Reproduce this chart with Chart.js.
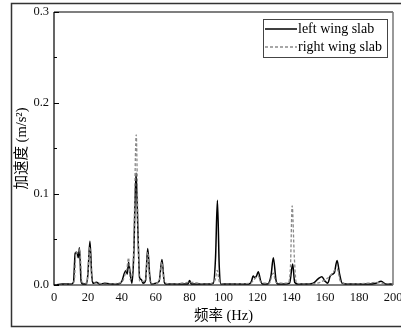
<!DOCTYPE html>
<html>
<head>
<meta charset="utf-8">
<script src="https://cdn.jsdelivr.net/npm/chart.js@4/dist/chart.umd.min.js"></script>
<style>
html,body{margin:0;padding:0;background:#fff;}
#wrap{position:absolute;left:0;top:0;width:401px;height:331px;}
</style>
</head>
<body>
<div id="wrap"><canvas id="c" width="401" height="331"></canvas></div>
<script>
const seriesNames = ['left wing slab', 'right wing slab'];
const xTitle = '频率 (Hz)';
const yTitle = '加速度 (m/s²)';

const freqLeft = [0,5,10,11.5,12.5,13.5,14.3,15,16,17,19,20,21.2,22.3,23,25,27,30,35,38,40,41.5,42.5,43.2,44,45,46,47,48.4,49.5,50.5,51.5,52.5,54,55.3,56.5,57.5,60,62,63.7,65,66,70,75,79,80,81,85,90,94,95.3,96.4,97.5,98.5,105,110,115,116.5,117.5,118.5,119.5,120.5,122,123,126,128,129.4,131,132,136,139,140.8,142,144,150,153,156,158,160,161.5,163,164.5,165.5,167,168.5,170,175,180,185,190,193,196,200];
const accLeft = [0,0.001,0.001,0.003,0.035,0.036,0.03,0.041,0.004,0.001,0.001,0.012,0.048,0.01,0.002,0.003,0.001,0.002,0.001,0.001,0.004,0.013,0.016,0.012,0.025,0.012,0.002,0.03,0.123,0.06,0.008,0.006,0.002,0.005,0.04,0.01,0.001,0.002,0.004,0.028,0.004,0.001,0.001,0.001,0.001,0.005,0.001,0.001,0.001,0.002,0.03,0.093,0.02,0.001,0.001,0.001,0.001,0.004,0.01,0.008,0.01,0.0146,0.004,0.001,0.001,0.01,0.03,0.005,0.001,0.001,0.002,0.023,0.003,0.001,0.001,0.002,0.007,0.009,0.004,0.002,0.01,0.012,0.014,0.027,0.012,0.002,0.001,0.001,0.001,0.002,0.004,0.001,0.001];

const freqRight = [0,10,12,13,14.3,15.2,16.5,19.5,21,22.5,26,30,40,42,43,44,45,47,48.5,49.6,50.5,54,55.3,56.5,58,62,63.7,65,70,80,90,95,96.3,97.5,100,116,118,120.5,122,127,129.3,131,138,139.5,140.5,141.8,143,150,157,160,163,165,167,169,175,185,190,193,200];
const accRight = [0,0.001,0.005,0.036,0.035,0.04,0.003,0.002,0.042,0.004,0.002,0.001,0.003,0.012,0.018,0.03,0.006,0.04,0.165,0.06,0.004,0.004,0.036,0.005,0.001,0.004,0.025,0.003,0.001,0.003,0.001,0.005,0.016,0.004,0.001,0.002,0.006,0.01,0.003,0.002,0.013,0.003,0.002,0.02,0.087,0.03,0.002,0.001,0.003,0.006,0.01,0.015,0.018,0.004,0.001,0.002,0.003,0.002,0.001];

const xTicks = [0,20,40,60,80,100,120,140,160,180,200];
const yTicks = [0.0,0.1,0.2,0.3];

const serif = '"Liberation Serif", "Times New Roman", "Noto Sans CJK SC", serif';

function pts(xs, ys){ return xs.map((x,i)=>({x:x, y:ys[i]})); }

const decor = {
  id:'decor',
  afterDraw(chart){
    const ctx = chart.ctx, a = chart.chartArea;
    const ys = chart.scales.y;
    ctx.save();
    // outer frame
    ctx.strokeStyle = '#333'; ctx.lineWidth = 1.5;
    ctx.beginPath();
    ctx.moveTo(405, 3.5); ctx.lineTo(11.5, 3.5); ctx.lineTo(11.5, 326.5); ctx.lineTo(405, 326.5);
    ctx.stroke();
    // plot borders
    ctx.lineWidth = 1.2;
    ctx.strokeStyle = '#000';
    ctx.beginPath();
    ctx.moveTo(a.left, a.top); ctx.lineTo(a.right, a.top);
    ctx.moveTo(a.left, a.top); ctx.lineTo(a.left, a.bottom); ctx.lineTo(a.right, a.bottom);
    ctx.stroke();
    ctx.strokeStyle = '#777'; ctx.lineWidth = 1.5;
    ctx.beginPath(); ctx.moveTo(a.right, a.top); ctx.lineTo(a.right, a.bottom); ctx.stroke();
    // y ticks
    ctx.strokeStyle = '#000'; ctx.lineWidth = 1;
    ctx.beginPath();
    for (let v = 0; v <= 0.3001; v += 0.05) {
      const y = Math.round(ys.getPixelForValue(v)) + 0.5;
      const major = Math.abs(v*10 - Math.round(v*10)) < 1e-6;
      ctx.moveTo(a.left, y); ctx.lineTo(a.left + (major ? 5 : 3), y);
    }
    ctx.stroke();
    // legend
    const lx = 263, ly = 19, lw = 124, lh = 38;
    ctx.fillStyle = '#fff'; ctx.fillRect(lx, ly, lw, lh);
    ctx.strokeStyle = '#444'; ctx.lineWidth = 1;
    ctx.strokeRect(lx + 0.5, ly + 0.5, lw, lh);
    ctx.font = '14px ' + serif; ctx.textBaseline = 'middle'; ctx.textAlign = 'left'; ctx.fillStyle = '#000';
    chart.data.datasets.forEach((ds, i) => {
      const yy = ly + 10 + i * 18;
      ctx.strokeStyle = ds.borderColor; ctx.lineWidth = ds.borderWidth;
      ctx.setLineDash(ds.borderDash || []);
      ctx.beginPath(); ctx.moveTo(lx + 2, yy); ctx.lineTo(lx + 34, yy); ctx.stroke();
      ctx.setLineDash([]);
      ctx.fillText(ds.label, lx + 35, yy);
    });
    ctx.restore();
  }
};

new Chart(document.getElementById('c'), {
  type: 'line',
  data: {
    datasets: [
      { label: seriesNames[0], data: pts(freqLeft, accLeft), borderColor: '#000', borderWidth: 1.5, pointRadius: 0, cubicInterpolationMode: 'monotone', fill: false, order: 1 },
      { label: seriesNames[1], data: pts(freqRight, accRight), borderColor: '#8a8a8a', borderWidth: 1.3, borderDash: [3, 2], pointRadius: 0, cubicInterpolationMode: 'monotone', fill: false, order: 0 }
    ]
  },
  options: {
    responsive: false,
    animation: false,
    devicePixelRatio: 1,
    layout: { padding: { top: 12, right: 8, left: 0, bottom: 0 } },
    plugins: { legend: { display: false }, tooltip: { enabled: false } },
    scales: {
      x: {
        type: 'linear', min: 0, max: 200,
        afterBuildTicks(s){ s.ticks = xTicks.map(v => ({value: v})); },
        ticks: { font: { family: serif, size: 12.5 }, color: '#111', padding: 5, maxRotation: 0, autoSkip: false },
        grid: { display: false, drawTicks: false },
        border: { display: false },
        title: { display: true, text: xTitle, font: { family: serif, size: 14.5 }, color: '#000', padding: { top: 0, bottom: 6 } },
        afterFit(s){ s.height = 46; s.paddingLeft = 0; s.paddingRight = 0; }
      },
      y: {
        type: 'linear', min: 0, max: 0.3,
        afterBuildTicks(s){ s.ticks = yTicks.map(v => ({value: v})); },
        ticks: { font: { family: serif, size: 12.5 }, color: '#111', padding: 5, callback: v => v.toFixed(1) },
        grid: { display: false, drawTicks: false },
        border: { display: false },
        title: { display: true, text: yTitle, font: { family: serif, size: 14.5 }, color: '#000', padding: { top: 13, bottom: 0 } },
        afterFit(s){ s.width = 54; s.paddingTop = 0; s.paddingBottom = 0; }
      }
    }
  },
  plugins: [decor]
});
</script>
</body>
</html>
